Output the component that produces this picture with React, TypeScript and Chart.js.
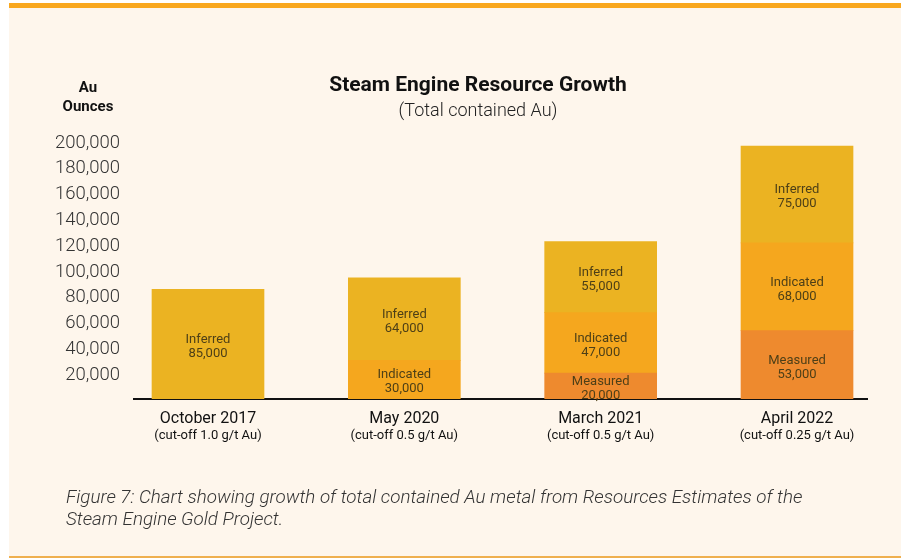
import React, { useEffect, useRef } from 'react';
import { Chart, registerables } from 'chart.js';

Chart.register(...registerables);

const categories = ['October 2017', 'May 2020', 'March 2021', 'April 2022'];
const cutoffs = ['(cut-off 1.0 g/t Au)', '(cut-off 0.5 g/t Au)', '(cut-off 0.5 g/t Au)', '(cut-off 0.25 g/t Au)'];
const measured: (number | null)[] = [null, null, 20000, 53000];
const indicated: (number | null)[] = [null, 30000, 47000, 68000];
const inferred: (number | null)[] = [85000, 64000, 55000, 75000];
const seriesNames = ['Measured', 'Indicated', 'Inferred'];
const seriesValues = [measured, indicated, inferred];
const seriesColors = ['#EE8A2E', '#F5A71E', '#EBB322'];
const yMax = 200000;
const yStep = 20000;

const segLabels = {
  id: 'segLabels',
  afterDatasetsDraw(chart: any) {
    const ctx = chart.ctx;
    ctx.save();
    ctx.textAlign = 'center';
    ctx.textBaseline = 'middle';
    ctx.font = '13px Roboto';
    ctx.fillStyle = '#4d3f17';
    chart.data.datasets.forEach((ds: any, di: number) => {
      const meta = chart.getDatasetMeta(di);
      meta.data.forEach((el: any, i: number) => {
        const v = seriesValues[di][i];
        if (v == null) return;
        const p = el.getProps(['x', 'y', 'base'], true);
        const cy = (p.y + p.base) / 2;
        ctx.fillText(ds.label, p.x, cy - 4.5);
        ctx.fillText(v.toLocaleString('en-US'), p.x, cy + 9.5);
      });
    });
    const xs = chart.scales.x;
    categories.forEach((c, i) => {
      const px = xs.getPixelForValue(i);
      ctx.fillStyle = '#111';
      ctx.font = '16px Roboto';
      ctx.fillText(c, px, 419);
      ctx.font = '13px Roboto';
      ctx.fillText(cutoffs[i], px, 436);
    });
    ctx.restore();
  },
};

function App() {
  const ref = useRef<HTMLCanvasElement | null>(null);
  useEffect(() => {
    if (!ref.current) return;
    const chart = new Chart(ref.current, {
      type: 'bar',
      data: {
        datasets: seriesNames.map((name, di) => ({
          label: name,
          data: seriesValues[di].map((v, i) => ({ x: i, y: v })) as any,
          backgroundColor: seriesColors[di],
          borderWidth: 0,
          barThickness: 112,
        })),
      },
      options: {
        responsive: false,
        animation: false,
        events: [],
        layout: { padding: { left: 0, top: 141, right: 40, bottom: 159 } },
        plugins: { legend: { display: false }, tooltip: { enabled: false }, title: { display: false } },
        scales: {
          x: {
            type: 'linear',
            stacked: true,
            offset: false,
            bounds: 'data',
            min: -0.3769,
            max: 3.3565,
            grid: { display: false, drawTicks: false, offset: false },
            ticks: { display: false },
            border: { display: true, color: '#111', width: 2 },
            afterFit: (s: any) => { s.height = 0; },
          },
          y: {
            stacked: true,
            min: 0,
            max: yMax,
            grid: { display: false, drawTicks: false },
            border: { display: false },
            ticks: {
              stepSize: yStep,
              padding: 14,
              labelOffset: 2,
              color: '#333',
              font: { family: 'Roboto', size: 18.5, weight: 300 as any },
              callback: (v: any) => (v === 0 ? null : Number(v).toLocaleString('en-US')),
            },
            afterFit: (s: any) => { s.width = 134; },
          },
        } as any,
      },
      plugins: [segLabels],
    });
    return () => chart.destroy();
  }, []);

  const abs = (o: any) => ({ position: 'absolute' as const, whiteSpace: 'nowrap' as const, ...o });

  return (
    <div style={{ position: 'absolute', left: 0, top: 0, width: 907, height: 558, background: '#fff', fontFamily: 'Roboto', overflow: 'hidden' }}>
      <div style={abs({ left: 9, top: 3, width: 892, height: 5, background: '#F9A81F' })} />
      <div style={abs({ left: 9, top: 8, width: 892, height: 548, background: '#FEF6EC' })} />
      <div style={abs({ left: 9, top: 556, width: 892, height: 1.5, background: '#EFB04F' })} />
      <canvas ref={ref} width={907} height={558} style={{ position: 'absolute', left: 0, top: 0, width: 907, height: 558 }} />
      <div style={abs({ left: 0, width: 956, top: 73.5, fontSize: 21, lineHeight: '21px', fontWeight: 700, color: '#111', textAlign: 'center' })}>Steam Engine Resource Growth</div>
      <div style={abs({ left: 0, width: 956, top: 101, fontSize: 18, lineHeight: '18px', fontWeight: 300, color: '#222', textAlign: 'center' })}>(Total contained Au)</div>
      <div style={abs({ left: 38, width: 100, top: 77.5, fontSize: 15, lineHeight: '19px', fontWeight: 700, color: '#111', textAlign: 'center' })}>Au<br />Ounces</div>
      <div style={abs({ left: 66, top: 486, fontSize: 18.8, lineHeight: '22px', fontWeight: 300, fontStyle: 'italic', color: '#333' })}>
        Figure 7: Chart showing growth of total contained Au metal from Resources Estimates of the<br />Steam Engine Gold Project.
      </div>
    </div>
  );
}

export default App;
